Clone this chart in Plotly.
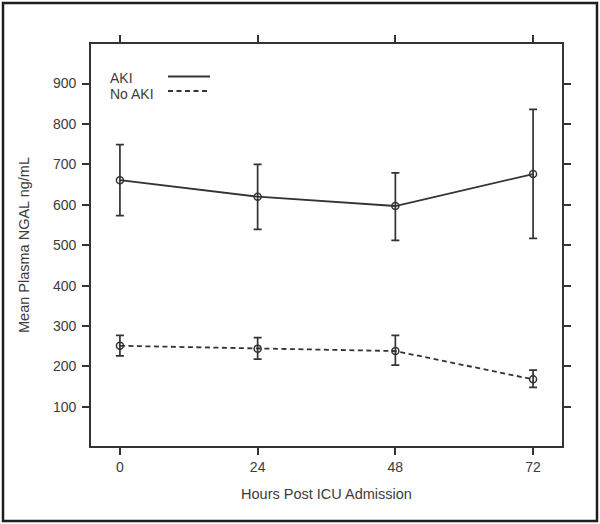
import plotly.graph_objects as go

# ---- data ----
hours = [0, 24, 48, 72]
aki_mean = [661, 620, 597, 676]
aki_upper = [749, 700, 679, 836]
aki_lower = [573, 539, 512, 517]
noaki_mean = [251, 244, 238, 168]
noaki_upper = [277, 271, 277, 191]
noaki_lower = [226, 218, 203, 148]

x_ticks = [0, 24, 48, 72]
y_ticks = [100, 200, 300, 400, 500, 600, 700, 800, 900]

# ---- layout geometry (pixels) ----
W, H = 600, 524
L, R, T, B = 91, 38, 44, 78
PW, PH = W - L - R, H - T - B

def px(x):
    return (x - L) / PW

def py(y):
    return (H - B - y) / PH

LINE = "#333333"
TEXT = "#3c3c3c"
FONT = "Liberation Sans, Arial, sans-serif"

fig = go.Figure()

def add_series(name, mean, up, lo, dash):
    fig.add_trace(go.Scatter(
        x=hours, y=mean, name=name, mode="lines+markers",
        line=dict(color=LINE, width=1.8, dash=dash),
        marker=dict(symbol="circle-open", size=7, color=LINE, line=dict(width=1.5, color=LINE)),
        error_y=dict(type="data", symmetric=False,
                     array=[u - m for u, m in zip(up, mean)],
                     arrayminus=[m - l for m, l in zip(mean, lo)],
                     color=LINE, thickness=1.7, width=4),
        showlegend=False,
    ))

add_series("AKI", aki_mean, aki_upper, aki_lower, "solid")
add_series("No AKI", noaki_mean, noaki_upper, noaki_lower, "5px,3.5px")

axis_common = dict(
    showline=True, linecolor=LINE, linewidth=1.6, mirror="ticks",
    ticks="outside", ticklen=7, tickwidth=1.6, tickcolor=LINE,
    showgrid=False, zeroline=False, automargin=False,
    tickfont=dict(family=FONT, size=14, color=TEXT),
)

fig.update_xaxes(
    range=[-5.04, 77.04], tickvals=x_ticks, ticktext=[str(v) for v in x_ticks],
    title=dict(text="Hours Post ICU Admission", font=dict(family=FONT, size=14.5, color=TEXT), standoff=15),
    **axis_common,
)
fig.update_yaxes(
    range=[3, 998], tickvals=y_ticks, ticktext=[str(v) for v in y_ticks],
    ticklabelstandoff=3,
    title=dict(text="Mean Plasma NGAL ng/mL", font=dict(family=FONT, size=14.5, color=TEXT), standoff=20),
    **axis_common,
)

shapes = [
    # outer border
    dict(type="rect", xref="paper", yref="paper",
         x0=px(3), x1=px(597), y0=py(521), y1=py(3),
         line=dict(color="#1e1e1e", width=2.5), fillcolor="rgba(0,0,0,0)", layer="above"),
    # legend lines
    dict(type="line", xref="paper", yref="paper",
         x0=px(168), x1=px(210), y0=py(76.5), y1=py(76.5),
         line=dict(color=LINE, width=1.8)),
    dict(type="line", xref="paper", yref="paper",
         x0=px(168), x1=px(210), y0=py(91), y1=py(91),
         line=dict(color=LINE, width=1.8, dash="5px,3.5px")),
]

annotations = [
    dict(text="AKI", xref="paper", yref="paper", x=px(108), y=py(78),
         xanchor="left", yanchor="middle", showarrow=False,
         font=dict(family=FONT, size=14, color=TEXT)),
    dict(text="No AKI", xref="paper", yref="paper", x=px(108), y=py(94),
         xanchor="left", yanchor="middle", showarrow=False,
         font=dict(family=FONT, size=14, color=TEXT)),
]

fig.update_layout(
    width=W, height=H,
    margin=dict(l=L, r=R, t=T, b=B, pad=0),
    paper_bgcolor="white", plot_bgcolor="white",
    shapes=shapes, annotations=annotations,
    showlegend=False,
)

fig.write_html("out.html", config={"displayModeBar": False},
               post_script="document.body.style.margin='0';document.body.style.padding='0';")
